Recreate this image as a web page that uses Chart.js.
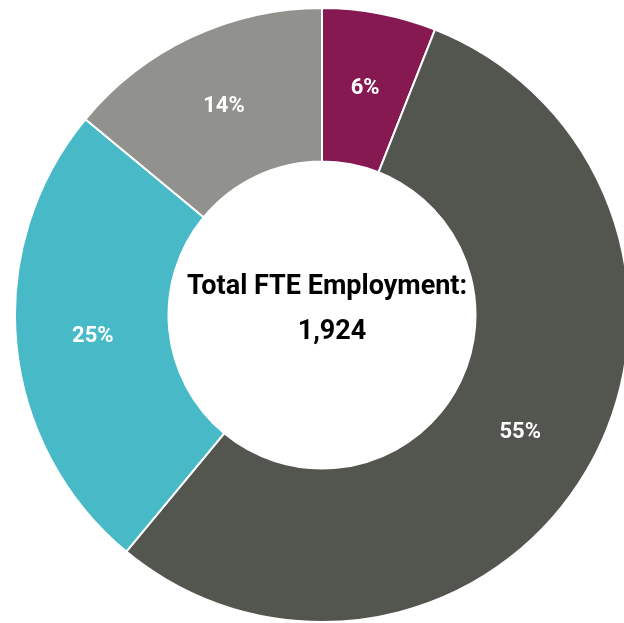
<!DOCTYPE html>
<html>
<head>
<meta charset="utf-8">
<script src="https://cdn.jsdelivr.net/npm/chart.js@4"></script>
<style>
  html, body { margin: 0; padding: 0; background: #fff; overflow: hidden; width: 624px; height: 623px; }
  #wrap { position: absolute; left: 14px; top: 7px; width: 616px; height: 616px; }
</style>
</head>
<body>
<div id="wrap"><canvas id="myDoughnutChart" width="616" height="616"></canvas></div>
<script>
var categories = ['Category 1', 'Category 2', 'Category 3', 'Category 4'];
var shares = [6, 55, 25, 14];
var colors = ['#861852', '#53554f', '#47b9c7', '#91918d'];
var centerLines = ['Total FTE Employment:', '1,924'];

// percent labels on each slice
const sliceLabels = {
  id: 'sliceLabels',
  afterDatasetsDraw(chart) {
    const { ctx } = chart;
    ctx.save();
    ctx.font = 'bold 22px Roboto';
    ctx.fillStyle = '#ffffff';
    ctx.textAlign = 'center';
    ctx.textBaseline = 'middle';
    chart.getDatasetMeta(0).data.forEach(function (arc, i) {
      const p = arc.tooltipPosition();
      ctx.fillText(shares[i] + '%', p.x, p.y);
    });
    ctx.restore();
  }
};

//centre text
const centerText = {
  id: 'centerText',
  afterDatasetsDraw(chart) {
    const { ctx } = chart;
    const x = chart.getDatasetMeta(0).data[0].x;
    const y = chart.getDatasetMeta(0).data[0].y;
    ctx.save();
    ctx.font = 'bold 27px Roboto';
    ctx.fillStyle = '#000000';
    ctx.textAlign = 'center';
    ctx.textBaseline = 'middle';
    ctx.fillText(centerLines[0], x + 5, y - 28);
    ctx.fillText(centerLines[1], x + 10, y + 17);
    ctx.restore();
  }
};

var ctx = document.getElementById('myDoughnutChart').getContext('2d');

var myDoughnutChart = new Chart(ctx, {
  type: 'doughnut',
  data: {
    labels: categories,
    datasets: [{
      data: shares,
      backgroundColor: colors,
      borderColor: '#ffffff',
      borderWidth: 2
    }]
  },
  options: {
    responsive: false,
    animation: false,
    cutout: '50%',
    layout: { padding: 0 },
    plugins: {
      legend: { display: false },
      tooltip: { enabled: false }
    }
  },
  plugins: [sliceLabels, centerText]
});
</script>
</body>
</html>
